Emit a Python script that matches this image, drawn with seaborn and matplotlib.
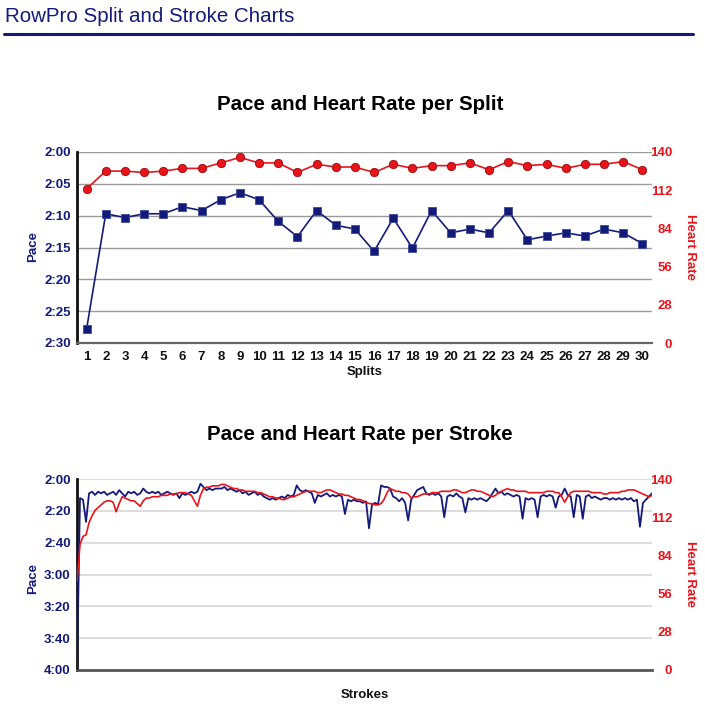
import matplotlib
matplotlib.use("Agg")
import matplotlib.pyplot as plt
from matplotlib.ticker import FuncFormatter, FixedLocator
import seaborn as sns
import pandas as pd

# ---------------- data ----------------
splits = list(range(1, 31))
split_pace_sec = [147.8, 129.7, 130.3, 129.7, 129.7, 128.6, 129.2, 127.5, 126.4, 127.5,
                  130.9, 133.3, 129.2, 131.5, 132.1, 135.6, 130.4, 135.1, 129.2, 132.7,
                  132.1, 132.7, 129.2, 133.8, 133.2, 132.7, 133.2, 132.1, 132.7, 134.4]
split_hr = [113, 126, 126, 125, 126, 128, 128, 132, 136, 132,
            132, 125, 131, 129, 129, 125, 131, 128, 130, 130,
            132, 127, 133, 130, 131, 128, 131, 131, 133, 127]

stroke_pace_sec = [
    240, 132, 133, 147, 129, 128, 130, 128, 129, 128, 130, 129, 128, 130, 127, 129,
    131, 128, 129, 128, 130, 129, 126, 128, 129, 128, 129, 128, 130, 129, 128, 129,
    130, 129, 132, 129, 130, 129, 128, 129, 128, 123, 125, 127, 126, 127, 126, 126,
    126, 125, 127, 126, 127, 128, 127, 129, 128, 130, 129, 128, 130, 129, 131, 132,
    133, 132, 133, 132, 131, 132, 130, 131, 130, 124, 127, 128, 127, 128, 129, 135,
    130, 131, 130, 129, 131, 130, 131, 130, 131, 142, 133, 134, 133, 134, 134, 135,
    134, 151, 136, 135, 136, 124, 125, 125, 126, 131, 132, 134, 132, 135, 146, 133,
    130, 127, 126, 125, 129, 130, 129, 130, 129, 131, 144, 131, 130, 131, 129, 131,
    132, 141, 132, 133, 132, 133, 132, 133, 134, 132, 129, 126, 129, 128, 130, 129,
    130, 131, 130, 131, 145, 132, 133, 132, 133, 144, 131, 130, 131, 130, 131, 138,
    131, 130, 126, 130, 131, 144, 130, 131, 145, 131, 130, 132, 131, 132, 133, 132,
    132, 133, 132, 133, 132, 133, 132, 133, 132, 134, 133, 150, 135, 133, 131, 129]
stroke_hr = [
    65, 92, 98, 99, 108, 113, 117, 119, 121, 123, 124, 124, 123, 116, 122, 127,
    126, 125, 124, 124, 122, 120, 124, 126, 126, 127, 127, 127, 128, 128, 128, 129,
    129, 129, 130, 130, 130, 129, 128, 124, 120, 128, 133, 134, 134, 135, 135, 135,
    136, 136, 135, 134, 133, 133, 132, 132, 131, 131, 131, 131, 130, 130, 129, 128,
    127, 127, 126, 126, 125, 125, 126, 127, 127, 128, 129, 130, 131, 131, 131, 131,
    130, 130, 131, 132, 132, 131, 130, 129, 129, 128, 128, 127, 126, 125, 125, 124,
    123, 122, 122, 121, 121, 122, 125, 130, 133, 132, 131, 131, 130, 130, 129, 126,
    127, 127, 128, 129, 129, 129, 130, 130, 130, 131, 131, 131, 131, 132, 132, 131,
    130, 130, 131, 132, 132, 131, 131, 130, 129, 128, 127, 128, 130, 131, 132, 133,
    132, 132, 131, 131, 131, 131, 130, 130, 130, 130, 130, 130, 131, 131, 131, 130,
    130, 127, 123, 127, 130, 131, 131, 131, 131, 131, 131, 130, 130, 130, 130, 129,
    129, 130, 130, 130, 130, 131, 131, 132, 132, 132, 131, 130, 129, 128, 127, 128]
strokes = list(range(1, len(stroke_pace_sec) + 1))

pace_split_ticks = [120, 125, 130, 135, 140, 145, 150]
pace_stroke_ticks = [120, 140, 160, 180, 200, 220, 240]
hr_ticks = [0, 28, 56, 84, 112, 140]

# ---------------- style ----------------
NAVY = "#141a78"
RED = "#e8141c"
sns.set_theme(style="white")
plt.rcParams['font.family'] = ['Liberation Sans', 'DejaVu Sans']

fig = plt.figure(figsize=(7.05, 7.07), dpi=100)

def fmt_pace(v, pos=None):
    v = int(round(v))
    return f"{v // 60}:{v % 60:02d}"

fig.text(5 / 705, 1 - 17 / 707, "RowPro Split and Stroke Charts", color=NAVY,
         fontsize=14.8, ha="left", va="center")
fig.add_artist(plt.Line2D([4 / 705, 693 / 705], [1 - 34 / 707, 1 - 34 / 707],
                          color=NAVY, lw=2.2, transform=fig.transFigure))

TICK_FS = 9.5

def setup(ax, ax2, ticks, grid_color, grid_lw):
    ax.yaxis.set_major_locator(FixedLocator(ticks))
    ax.yaxis.set_major_formatter(FuncFormatter(fmt_pace))
    ax.set_ylim(ticks[-1], ticks[0])
    ax2.set_ylim(0, 140)
    ax2.yaxis.set_major_locator(FixedLocator(hr_ticks))
    for t in ticks[:-1]:
        ax.axhline(t, color=grid_color, lw=grid_lw, zorder=0)
    for s in ["top", "right"]:
        ax.spines[s].set_visible(False)
        ax2.spines[s].set_visible(False)
    ax2.spines["left"].set_visible(False)
    ax2.spines["bottom"].set_visible(False)
    ax.spines["left"].set_color("#111111")
    ax.spines["left"].set_linewidth(2)
    ax.spines["bottom"].set_color("#555555")
    ax.spines["bottom"].set_linewidth(2)
    ax.tick_params(axis="y", length=0, pad=4.5, labelsize=TICK_FS, labelcolor=NAVY)
    for lab in ax.get_yticklabels():
        lab.set_fontweight("bold")
    ax2.tick_params(axis="y", length=0, pad=14.5, labelsize=TICK_FS, labelcolor=RED)
    for lab in ax2.get_yticklabels():
        lab.set_fontweight("bold")
        lab.set_horizontalalignment("right")
    ax.set_ylabel("")
    ax2.set_ylabel("")
    ax.set_xlabel("")
    ax2.set_xlabel("")

# ---------------- top chart ----------------
L, W = 77 / 705, 575 / 705
H = 191 / 707
ax1 = fig.add_axes([L, 1 - 343 / 707, W, H])
ax1b = ax1.twinx()
df_split = pd.DataFrame({"split": splits, "pace": split_pace_sec, "hr": split_hr})
sns.lineplot(data=df_split, x="split", y="pace", ax=ax1, color=NAVY, lw=1.2,
             marker="s", markersize=6, markerfacecolor=NAVY, markeredgecolor="#3a4a9a",
             markeredgewidth=0.6, zorder=3)
sns.lineplot(data=df_split, x="split", y="hr", ax=ax1b, color=RED, lw=1.2,
             marker="o", markersize=6, markerfacecolor=RED, markeredgecolor="#9a0a0a",
             markeredgewidth=0.6, zorder=3)
setup(ax1, ax1b, pace_split_ticks, "#9a9a9a", 1.0)
ax1.set_xlim(0.5, 30.5)
ax1.set_xticks(splits)
ax1.set_xticklabels([str(s) for s in splits], fontweight="bold", fontsize=TICK_FS,
                    color="#111111")
ax1.tick_params(axis="x", length=0, pad=6, labelbottom=True)
ax1b.tick_params(axis="x", labelbottom=False, labeltop=False, length=0)
ax1.spines["bottom"].set_color("#666666")
ax1.spines["bottom"].set_linewidth(1.6)

fig.text(360 / 705, 1 - 105 / 707, "Pace and Heart Rate per Split", fontsize=14.8,
         fontweight="bold", ha="center", va="center", color="#000000")
fig.text(33 / 705, 1 - 247 / 707, "Pace", color=NAVY, fontsize=9.5, fontweight="bold",
         rotation=90, ha="center", va="center")
fig.text(690 / 705, 1 - 247 / 707, "Heart Rate", color=RED, fontsize=9.5, fontweight="bold",
         rotation=270, ha="center", va="center")
fig.text(365 / 705, 1 - 372 / 707, "Splits", color="#111111", fontsize=9.5,
         fontweight="bold", ha="center", va="center")

# ---------------- bottom chart ----------------
ax2 = fig.add_axes([L, 1 - 670 / 707, W, H])
ax2b = ax2.twinx()
df_stroke = pd.DataFrame({"stroke": strokes, "pace": stroke_pace_sec, "hr": stroke_hr})
sns.lineplot(data=df_stroke, x="stroke", y="pace", ax=ax2, color=NAVY, lw=1.3, zorder=3)
sns.lineplot(data=df_stroke, x="stroke", y="hr", ax=ax2b, color=RED, lw=1.2, zorder=3)
setup(ax2, ax2b, pace_stroke_ticks, "#dddddd", 1.5)
ax2.set_xlim(1, len(strokes))
ax2.tick_params(axis="x", labelbottom=False, length=0)
ax2b.tick_params(axis="x", labelbottom=False, labeltop=False, length=0)

fig.text(360 / 705, 1 - 434 / 707, "Pace and Heart Rate per Stroke", fontsize=14.8,
         fontweight="bold", ha="center", va="center", color="#000000")
fig.text(33 / 705, 1 - 578 / 707, "Pace", color=NAVY, fontsize=9.5, fontweight="bold",
         rotation=90, ha="center", va="center")
fig.text(690 / 705, 1 - 574 / 707, "Heart Rate", color=RED, fontsize=9.5, fontweight="bold",
         rotation=270, ha="center", va="center")
fig.text(365 / 705, 1 - 695 / 707, "Strokes", color="#111111", fontsize=9.5,
         fontweight="bold", ha="center", va="center")

fig.savefig("out.png", dpi=100, facecolor="white")
